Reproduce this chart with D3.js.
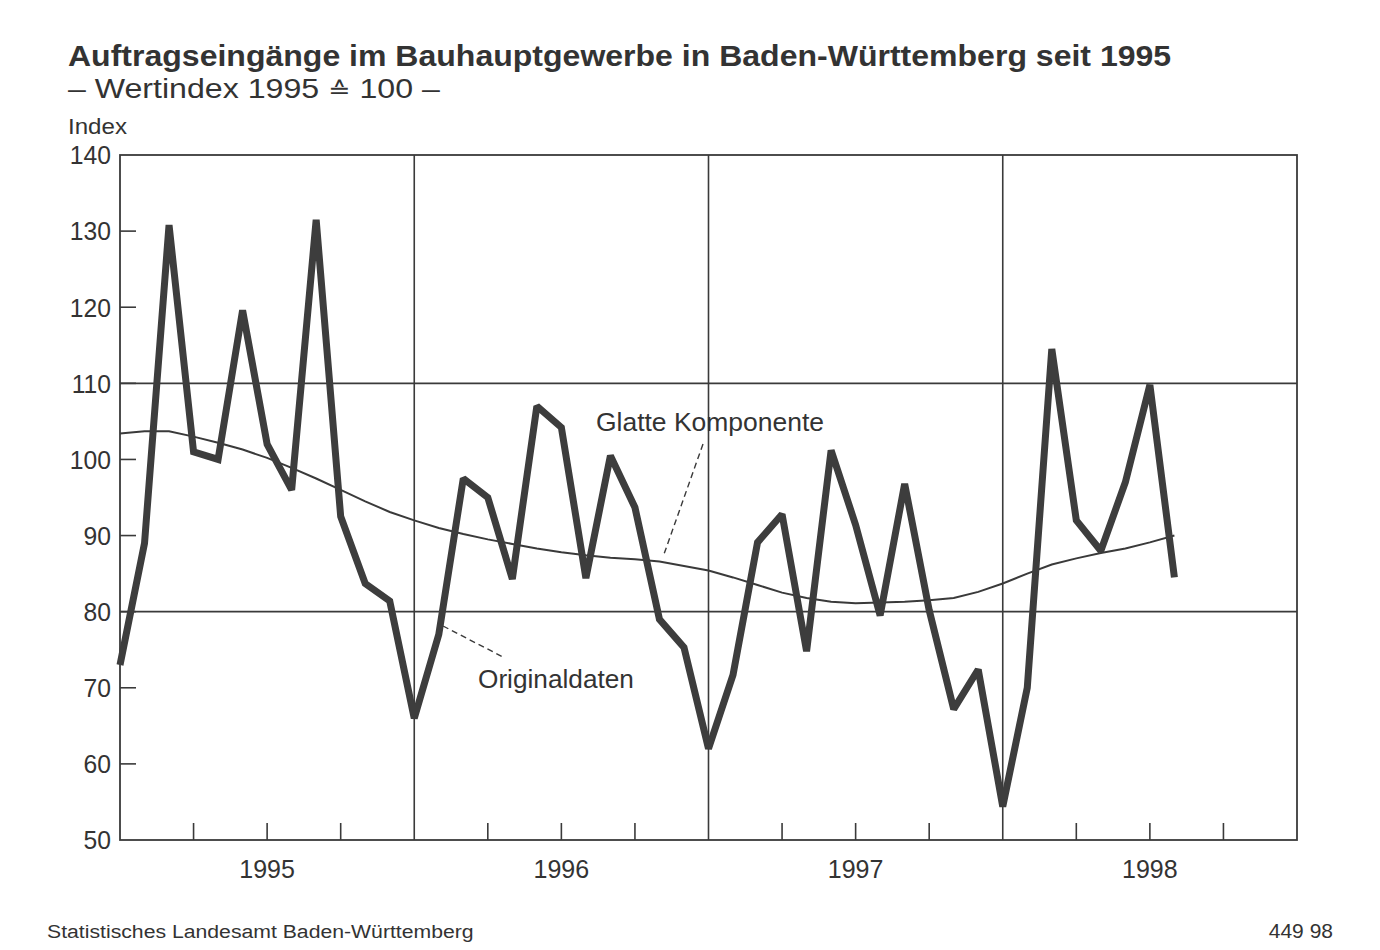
<!DOCTYPE html>
<html>
<head>
<meta charset="utf-8">
<script src="https://cdn.jsdelivr.net/npm/d3@7"></script>
<style>
  html, body { margin: 0; padding: 0; background: #ffffff; }
  svg { display: block; font-family: "Liberation Sans", Arial, "DejaVu Sans", sans-serif; }
</style>
</head>
<body>
<svg id="chart" width="1380" height="950"></svg>
<script>
// ---- data (monthly, Jan 1995 = 0) ----
const monthIndex = d3.range(0, 44);
const originalValues = [
  73, 89, 130.8, 101, 100, 119.6, 102, 96, 131.5, 92.5, 83.7, 81.4,
  66, 77, 97.5, 95, 84.3, 107, 104.2, 84.4, 100.5, 93.7, 79, 75.3,
  62, 71.7, 89.1, 92.8, 74.8, 101.2, 91.4, 79.5, 96.8, 80.2, 67.2, 72.4,
  54.4, 70, 114.5, 92, 88, 97, 109.8, 84.5
];
const smoothValues = [
  103.4, 103.7, 103.7, 103.0, 102.2, 101.3, 100.2, 98.9, 97.5, 96.0, 94.5, 93.1,
  92.0, 91.0, 90.2, 89.5, 88.9, 88.3, 87.8, 87.4, 87.1, 86.9, 86.6, 86.0,
  85.4, 84.5, 83.5, 82.5, 81.8, 81.3, 81.1, 81.2, 81.3, 81.5, 81.8, 82.6,
  83.7, 85.0, 86.2, 87.0, 87.7, 88.3, 89.1, 90.0
];
const yTickValues = [50, 60, 70, 80, 90, 100, 110, 120, 130, 140];
const yGridValues = [80, 110];
const yearLabels = ["1995", "1996", "1997", "1998"];
const yearBoundaries = [12, 24, 36];
const quarterTicks = [3, 6, 9, 15, 18, 21, 27, 30, 33, 39, 42, 45];

const titleText = "Auftragseingänge im Bauhauptgewerbe in Baden-Württemberg seit 1995";
const subtitleParts = ["– Wertindex 1995 ", "≙", " 100 –"];
const unitText = "Index";
const smoothLabel = "Glatte Komponente";
const originalLabel = "Originaldaten";
const sourceText = "Statistisches Landesamt Baden-Württemberg";
const codeText = "449 98";

// ---- layout ----
const svg = d3.select("#chart");
const ink = "#333333";
const lineInk = "#3a3a3a";
const plot = { left: 120, right: 1297, top: 155, bottom: 840 };

const x = d3.scaleLinear().domain([0, 48]).range([plot.left, plot.right]);
const y = d3.scaleLinear().domain([50, 140]).range([plot.bottom, plot.top]);

// text squeezed horizontally to a target width, keeping its font size (height)
function squeezed(xp, yp, size, width, bold) {
  const t = svg.append("text").attr("x", 0).attr("y", 0)
    .attr("font-size", size).attr("fill", ink);
  if (bold) t.attr("font-weight", "bold");
  t.attr("data-w", width).attr("data-x", xp).attr("data-y", yp);
  return t;
}
function applySqueeze(t) {
  const w = t.node().getComputedTextLength();
  const sx = +t.attr("data-w") / w;
  t.attr("transform", `translate(${t.attr("data-x")},${t.attr("data-y")}) scale(${sx.toFixed(4)},1)`);
  return t;
}

// titles
applySqueeze(squeezed(68, 66, 30, 1104, true).text(titleText));
const sub = squeezed(68, 98, 27.5, 372, false);
sub.append("tspan").text(subtitleParts[0]);
sub.append("tspan").attr("font-size", 23).text(subtitleParts[1]);
sub.append("tspan").text(subtitleParts[2]);
applySqueeze(sub);
applySqueeze(squeezed(68, 134, 22, 59, false).text(unitText));

// grid
const g = svg.append("g");
g.selectAll("line.hgrid").data(yGridValues).enter().append("line")
  .attr("x1", plot.left).attr("x2", plot.right)
  .attr("y1", d => y(d)).attr("y2", d => y(d))
  .attr("stroke", lineInk).attr("stroke-width", 1.6);
g.selectAll("line.vgrid").data(yearBoundaries).enter().append("line")
  .attr("x1", d => x(d)).attr("x2", d => x(d))
  .attr("y1", plot.top).attr("y2", plot.bottom)
  .attr("stroke", lineInk).attr("stroke-width", 1.6);

// y ticks (inward)
g.selectAll("line.ytick").data(yTickValues.filter(v => v > 50 && v < 140)).enter().append("line")
  .attr("x1", plot.left).attr("x2", plot.left + 16)
  .attr("y1", d => y(d)).attr("y2", d => y(d))
  .attr("stroke", lineInk).attr("stroke-width", 1.6);
// x quarter ticks (inward)
g.selectAll("line.xtick").data(quarterTicks).enter().append("line")
  .attr("x1", d => x(d)).attr("x2", d => x(d))
  .attr("y1", plot.bottom).attr("y2", plot.bottom - 17)
  .attr("stroke", lineInk).attr("stroke-width", 1.6);

// frame
g.append("rect").attr("x", plot.left).attr("y", plot.top)
  .attr("width", plot.right - plot.left).attr("height", plot.bottom - plot.top)
  .attr("fill", "none").attr("stroke", lineInk).attr("stroke-width", 1.8);

// y labels
svg.selectAll("text.ylab").data(yTickValues).enter().append("text")
  .attr("transform", d => `translate(111,${y(d)}) scale(0.95,1)`)
  .attr("dy", "0.36em")
  .attr("text-anchor", "end").attr("font-size", 26).attr("fill", ink)
  .text(d => d);

// year labels
svg.selectAll("text.xlab").data(yearLabels).enter().append("text")
  .attr("x", (d, i) => x(i * 12 + 6)).attr("y", 878)
  .attr("text-anchor", "middle").attr("font-size", 25).attr("fill", ink)
  .text(d => d);

// smooth component
const line = d3.line().x((d, i) => x(monthIndex[i])).y(d => y(d));
svg.append("path").datum(smoothValues)
  .attr("d", line).attr("fill", "none")
  .attr("stroke", lineInk).attr("stroke-width", 2);

// original data
svg.append("path").datum(originalValues)
  .attr("d", line).attr("fill", "none")
  .attr("stroke", "#3d3d3d").attr("stroke-width", 7)
  .attr("stroke-linejoin", "miter").attr("stroke-miterlimit", 1.6);

// annotation labels and leaders
applySqueeze(squeezed(596, 431, 25, 228, false).text(smoothLabel));
svg.append("line").attr("x1", 703).attr("y1", 444).attr("x2", 663).attr("y2", 557)
  .attr("stroke", lineInk).attr("stroke-width", 1.4).attr("stroke-dasharray", "6,4");

applySqueeze(squeezed(478, 688, 25, 156, false).text(originalLabel));
svg.append("line").attr("x1", 443).attr("y1", 626).attr("x2", 505).attr("y2", 658)
  .attr("stroke", lineInk).attr("stroke-width", 1.4).attr("stroke-dasharray", "6,4");

// footer
applySqueeze(squeezed(47, 938, 19, 427, false).text(sourceText));
svg.append("text").attr("x", 1333).attr("y", 938).attr("font-size", 21)
  .attr("text-anchor", "end").attr("fill", ink).text(codeText);
</script>
</body>
</html>
